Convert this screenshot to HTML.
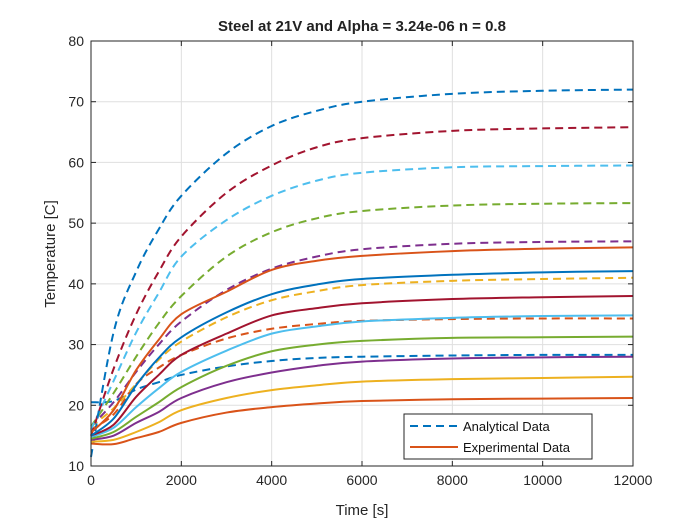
<!DOCTYPE html>
<html><head><meta charset="utf-8"><style>
body{margin:0;background:#fff;}
svg{display:block;font-family:"Liberation Sans",Arial,sans-serif;}
</style></head><body>
<svg id="chart" width="700" height="525" viewBox="0 0 700 525" xmlns="http://www.w3.org/2000/svg">
<rect width="700" height="525" fill="#fff"/>
<text x="362" y="31" text-anchor="middle" font-size="15" font-weight="bold" fill="#222">Steel at 21V and Alpha = 3.24e-06 n = 0.8</text>
<g id="grid"></g><g id="series"></g><g id="axes"></g>
<text x="362" y="515" text-anchor="middle" font-size="15" fill="#262626">Time [s]</text>
<text transform="translate(55,254) rotate(-90)" text-anchor="middle" font-size="15" fill="#262626">Temperature [C]</text>
<g>
<rect x="404" y="414" width="188" height="45" fill="#fff" stroke="#262626" stroke-width="1"/>
<line x1="410" y1="426" x2="458" y2="426" stroke="#0072BD" stroke-width="2" stroke-dasharray="8,5"/>
<text x="463" y="431" font-size="13" fill="#111">Analytical Data</text>
<line x1="410" y1="447" x2="458" y2="447" stroke="#D95319" stroke-width="2"/>
<text x="463" y="452" font-size="13" fill="#111">Experimental Data</text>
</g>
</svg>
<script>
const times = [0,500,1000,1500,2000,3000,4000,5000,6000,8000,10000,12000];
const xTicks = [0,2000,4000,6000,8000,10000,12000];
const yTicks = [10,20,30,40,50,60,70,80];
const analytical1 = [20.5,20.7,22.6,23.8,25,26.4,27.3,27.8,28,28.2,28.3,28.3];
const analytical2 = [16,18.5,23.5,26.2,28.3,31,32.6,33.4,33.9,34.2,34.3,34.3];
const analytical3 = [16.5,19.5,23.5,27.5,30.5,34.5,37.3,38.8,39.8,40.5,40.8,41];
const analytical4 = [16.5,20.5,25.5,30,33.8,39,42.5,44.5,45.7,46.6,46.9,47];
const analytical5 = [16.5,22,28,33.5,38,44.5,48.5,50.8,52,52.9,53.2,53.3];
const analytical6 = [16,24,32,38.5,44.5,50.5,54.5,57,58.3,59.2,59.4,59.5];
const analytical7 = [15,26,35,42,47.8,55,59.5,62.5,64,65.2,65.6,65.8];
const analytical8 = [11.5,32,42,49,54.5,61.5,66,68.5,70,71.3,71.8,72];
const experimental1 = [13.7,13.6,14.6,15.6,17.1,18.8,19.7,20.3,20.7,21,21.1,21.2];
const experimental2 = [14,14.3,15.6,17.2,19.2,21.2,22.5,23.3,23.9,24.3,24.5,24.7];
const experimental3 = [14.3,15,17.1,18.9,21.2,23.8,25.4,26.5,27.2,27.7,27.9,28];
const experimental4 = [14.5,15.6,18.1,20.5,23,26.5,28.9,30,30.6,31.1,31.2,31.3];
const experimental5 = [14.8,16.3,19.7,22.8,25.5,29,31.8,33,33.8,34.4,34.7,34.8];
const experimental6 = [15,16.8,21.4,25,28.3,31.8,34.8,36,36.8,37.5,37.8,38];
const experimental7 = [15,17.8,23.3,27.8,31.2,35.3,38.3,39.9,40.8,41.5,41.9,42.1];
const experimental8 = [15.5,19.2,25.8,30.8,35,38.7,42.3,43.8,44.6,45.4,45.8,46];
const colors = ["#0072BD","#D95319","#EDB120","#7E2F8E","#77AC30","#4DBEEE","#A2142F","#0072BD"];
const expColors = ["#D95319","#EDB120","#7E2F8E","#77AC30","#4DBEEE","#A2142F","#0072BD","#D95319"];

const X0=91,X1=633,Y0=466,Y1=41;
const xs = t => X0 + (t-0)/(12000-0)*(X1-X0);
const ys = v => Y0 - (v-10)/(80-10)*(Y0-Y1);
const NS="http://www.w3.org/2000/svg";
function mk(tag, attrs, parent){const e=document.createElementNS(NS,tag);for(const k in attrs)e.setAttribute(k,attrs[k]);parent.appendChild(e);return e;}
const grid=document.getElementById('grid'), axes=document.getElementById('axes'), ser=document.getElementById('series');
xTicks.forEach(t=>{
  const g=mk('line',{x1:xs(t),x2:xs(t),y1:Y1,y2:Y0,stroke:'#dfdfdf','stroke-width':1},grid);
  
  
  mk('line',{x1:xs(t),x2:xs(t),y1:Y0,y2:Y0-5,stroke:'#262626'},axes);
  mk('line',{x1:xs(t),x2:xs(t),y1:Y1,y2:Y1+5,stroke:'#262626'},axes);
  const l=mk('text',{x:xs(t),y:Y0+19,'text-anchor':'middle','font-size':14,fill:'#262626'},axes);
  l.textContent=t;
  
  
});
yTicks.forEach(v=>{
  const g=mk('line',{x1:X0,x2:X1,y1:ys(v),y2:ys(v),stroke:'#dfdfdf','stroke-width':1},grid);
  
  
  mk('line',{x1:X0,x2:X0+5,y1:ys(v),y2:ys(v),stroke:'#262626'},axes);
  mk('line',{x1:X1,x2:X1-5,y1:ys(v),y2:ys(v),stroke:'#262626'},axes);
  const l=mk('text',{x:X0-7,y:ys(v)+5,'text-anchor':'end','font-size':14,fill:'#262626'},axes);
  l.textContent=v;
  
  
});
const box=mk('rect',{x:X0,y:Y1,width:X1-X0,height:Y0-Y1,fill:'none',stroke:'#262626','stroke-width':1},axes);


function pathD(vals){
  const p=times.map((t,i)=>[xs(t),ys(vals[i])]);
  let d='M'+p[0][0]+','+p[0][1];
  for(let i=0;i<p.length-1;i++){
    const p0=p[Math.max(0,i-1)],p1=p[i],p2=p[i+1],p3=p[Math.min(p.length-1,i+2)];
    const c1=[p1[0]+(p2[0]-p0[0])/6,p1[1]+(p2[1]-p0[1])/6];
    const c2=[p2[0]-(p3[0]-p1[0])/6,p2[1]-(p3[1]-p1[1])/6];
    d+=' C'+c1+' '+c2+' '+p2;
  }
  return d;
}
const A=[analytical1,analytical2,analytical3,analytical4,analytical5,analytical6,analytical7,analytical8];
const E=[experimental1,experimental2,experimental3,experimental4,experimental5,experimental6,experimental7,experimental8];
A.forEach((s,i)=>{
  const e=mk('path',{d:pathD(s),fill:'none',stroke:colors[i],'stroke-width':2,'stroke-dasharray':'8,5'},ser);
  
  
});
E.forEach((s,i)=>{
  const e=mk('path',{d:pathD(s),fill:'none',stroke:expColors[i],'stroke-width':2},ser);
  
  
});
</script>
</body></html>
